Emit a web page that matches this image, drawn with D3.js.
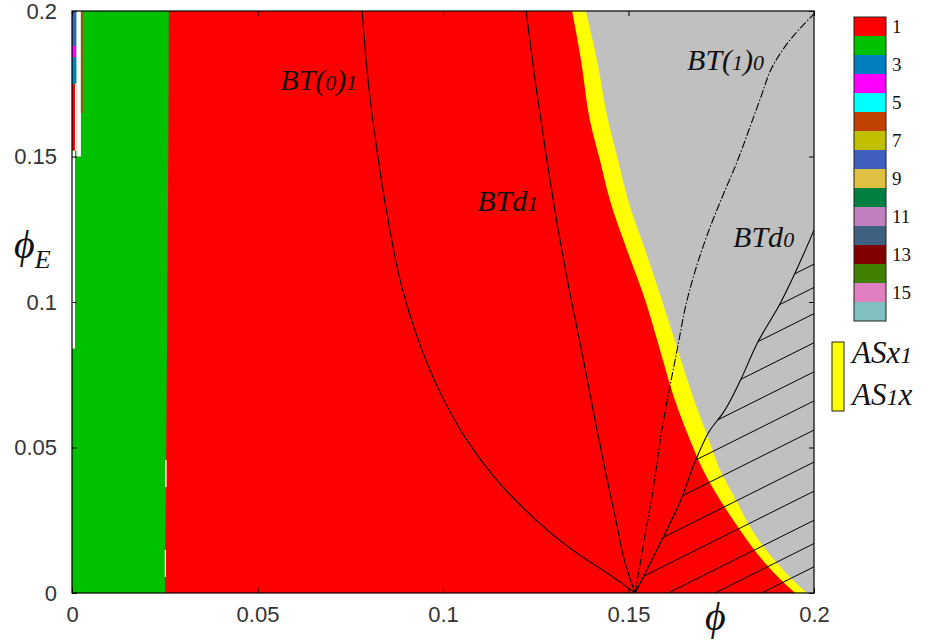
<!DOCTYPE html>
<meta charset="utf-8">
<script src="https://cdn.jsdelivr.net/npm/d3@7"></script>
<style>
body { margin: 0; background: #fff; }
</style>
<body>
<script>

// ---- data, [phi, phiE] pairs ----
var greenEdge = [[0.0251,0],[0.0251,0.012],[0.0253,0.03],[0.0254,0.05],[0.0256,0.08],[0.0258,0.12],[0.0260,0.16],[0.0261,0.2]];
var yellowLeft = [[0.1949,0],[0.1911,0.0045],[0.1868,0.0103],[0.1801,0.0216],[0.1747,0.0320],[0.1701,0.0423],[0.1666,0.0526],
                  [0.1625,0.0663],[0.1585,0.0835],[0.1545,0.1007],[0.1496,0.1179],[0.1450,0.1350],[0.1423,0.1488],
                  [0.1396,0.1625],[0.1372,0.1832],[0.1348,0.2]];
var yellowRight = [[0.1981,0],[0.1943,0.0045],[0.1900,0.0103],[0.1833,0.0216],[0.1790,0.0320],[0.1747,0.0423],[0.1717,0.0526],
                   [0.1677,0.0663],[0.1633,0.0835],[0.1590,0.1007],[0.1545,0.1179],[0.1499,0.1350],[0.1472,0.1488],
                   [0.1445,0.1625],[0.1415,0.1832],[0.1385,0.2]];

var bt01 = [[0.1518,0],[0.1442,0.0069],[0.1361,0.0137],[0.1291,0.0206],[0.1162,0.0364],[0.1059,0.0536],[0.0989,0.0698],
            [0.0927,0.0893],[0.0889,0.1052],[0.0852,0.1282],[0.0822,0.1522],[0.0798,0.1763],[0.0782,0.2]];
var btd1 = [[0.1518,0],[0.1491,0.0103],[0.1466,0.0251],[0.1437,0.0423],[0.1410,0.0594],[0.1384,0.0766],[0.1339,0.1052],
            [0.1306,0.1282],[0.1276,0.1522],[0.1248,0.1763],[0.1224,0.2]];
var bt10 = [[0.1518,0],[0.1539,0.0158],[0.1563,0.0330],[0.1590,0.0560],[0.1631,0.0835],[0.1658,0.1007],[0.1714,0.1237],
            [0.1749,0.1350],[0.1787,0.1464],[0.1854,0.1694],[0.1890,0.1814],[0.1935,0.1900],[0.2,0.1990]];
var btd0 = [[0.1518,0],[0.1590,0.0182],[0.1639,0.0313],[0.1687,0.0474],[0.1720,0.0560],[0.1755,0.0619],[0.1801,0.0729],
            [0.1846,0.0856],[0.1908,0.0993],[0.1949,0.1100],[0.2,0.1247]];

// hatch lines: phiE where each meets the right edge, and their slope
var hatchEdge = [0.113, 0.105, 0.096, 0.086, 0.076, 0.066, 0.056, 0.045, 0.035, 0.025, 0.017, 0.009];
var hatchSlope = 0.637;

// small cells along the left edge and the green/red border: [phi0, phi1, phiE0, phiE1, code]
var stripCells = [
  [0, 0.0012, 0.188, 0.2, 8],
  [0, 0.0012, 0.184, 0.188, 4],
  [0, 0.0012, 0.175, 0.184, 3],
  [0, 0.0008, 0.152, 0.175, 1],
  [0.0008, 0.0012, 0.152, 0.175, 0],
  [0, 0.0008, 0.084, 0.152, 0],
  [0.0012, 0.0024, 0.15, 0.2, 0],
  [0.0024, 0.0029, 0.165, 0.2, 6],
  [0.0251, 0.0255, 0.0364, 0.0457, 0],
  [0.0250, 0.0253, 0.0055, 0.0148, 0]
];

var codes = d3.range(1, 17);
var codeColors = ["#ffffff","#ff0000","#00c000","#0080c0","#ff00ff","#00ffff","#c04000","#c0c000","#4060c0",
                  "#e0c040","#008040","#c080c0","#406080","#800000","#408000","#e080c0","#80c0c0"];
var axisTicks = [0, 0.05, 0.1, 0.15, 0.2];
var tickText = ["0", "0.05", "0.1", "0.15", "0.2"];

var curveLabels = [
  {text: "BT(0)1", phi: 0.0561, phiE: 0.1729},
  {text: "BTd1",   phi: 0.1092, phiE: 0.1313},
  {text: "BT(1)0", phi: 0.1658, phiE: 0.1797},
  {text: "BTd0",   phi: 0.1782, phiE: 0.1189}
];
var legendText = ["ASx1", "AS1x"];

// ---- canvas ----
var W = 934, H = 641;
var margin = {top: 11, right: 120, bottom: 48, left: 72};

var svg = d3.select("body").append("svg")
    .attr("width", W)
    .attr("height", H);

var x = d3.scaleLinear().domain([0, 0.2]).range([margin.left, 814]);
var y = d3.scaleLinear().domain([0, 0.2]).range([H - margin.bottom, margin.top]);

svg.append("clipPath").attr("id", "plotclip")
  .append("rect")
    .attr("x", x(0)).attr("y", y(0.2))
    .attr("width", x(0.2) - x(0)).attr("height", y(0) - y(0.2));

var plot = svg.append("g").attr("clip-path", "url(#plotclip)");

// red background region
plot.append("rect")
    .attr("x", x(0)).attr("y", y(0.2))
    .attr("width", x(0.2) - x(0)).attr("height", y(0) - y(0.2))
    .attr("fill", codeColors[1]);

// green region
var leftArea = d3.area()
    .y(function(d) { return y(d[1]); })
    .x0(x(0))
    .x1(function(d) { return x(d[0]); });
plot.append("path").datum(greenEdge)
    .attr("d", leftArea)
    .attr("fill", codeColors[2]);

plot.selectAll(".cell")
    .data(stripCells)
  .enter().append("rect")
    .attr("class", "cell")
    .attr("x", function(d) { return x(d[0]); })
    .attr("width", function(d) { return x(d[1]) - x(d[0]); })
    .attr("y", function(d) { return y(d[3]); })
    .attr("height", function(d) { return y(d[2]) - y(d[3]); })
    .attr("fill", function(d) { return codeColors[d[4]]; });

// yellow band and grey region, both run to the right edge
var rightArea = d3.area()
    .y(function(d) { return y(d[1]); })
    .x0(function(d) { return x(d[0]); })
    .x1(x(0.2) + 2)
    .curve(d3.curveMonotoneY);
plot.append("path").datum(yellowLeft)
    .attr("d", rightArea)
    .attr("fill", "#ffff00");
plot.append("path").datum(yellowRight)
    .attr("d", rightArea)
    .attr("fill", "#c0c0c0");

// hatched region below BTd0
var hatchPoly = btd0.concat([[0.2, 0]]);
svg.append("clipPath").attr("id", "hatchclip")
  .append("path")
    .attr("d", "M" + hatchPoly.map(function(d) { return x(d[0]) + "," + y(d[1]); }).join("L") + "Z");

var hatch = plot.append("g").attr("clip-path", "url(#hatchclip)");
hatch.selectAll("line")
    .data(hatchEdge)
  .enter().append("line")
    .attr("x1", x(0.2))
    .attr("y1", function(d) { return y(d); })
    .attr("x2", x(0.2 - 0.1))
    .attr("y2", function(d) { return y(d - hatchSlope * 0.1); })
    .attr("stroke", "#000")
    .attr("stroke-width", 1);

// bifurcation curves
var line = d3.line()
    .x(function(d) { return x(d[0]); })
    .y(function(d) { return y(d[1]); })
    .curve(d3.curveMonotoneY);

[bt01, btd1, btd0].forEach(function(c) {
  plot.append("path").datum(c)
      .attr("d", line)
      .attr("fill", "none")
      .attr("stroke", "#000")
      .attr("stroke-width", 1.1);
});
plot.append("path").datum(bt10)
    .attr("d", line)
    .attr("fill", "none")
    .attr("stroke", "#000")
    .attr("stroke-width", 1.1)
    .attr("stroke-dasharray", "8,2,1.5,2");

// axes, ticks on all four sides pointing inward
var fmt = function(d) { return tickText[axisTicks.indexOf(d)]; };

svg.append("g")
    .attr("transform", "translate(0," + y(0) + ")")
    .call(d3.axisBottom(x).tickValues(axisTicks).tickFormat(fmt).tickSize(-5).tickPadding(13));
svg.append("g")
    .attr("transform", "translate(" + x(0) + ",0)")
    .call(d3.axisLeft(y).tickValues(axisTicks).tickFormat(fmt).tickSize(-5).tickPadding(15));
svg.append("g")
    .attr("transform", "translate(0," + y(0.2) + ")")
    .call(d3.axisTop(x).tickValues(axisTicks).tickFormat("").tickSize(-5));
svg.append("g")
    .attr("transform", "translate(" + x(0.2) + ",0)")
    .call(d3.axisRight(y).tickValues(axisTicks).tickFormat("").tickSize(-5));

svg.selectAll(".domain").remove();
svg.selectAll(".tick line").attr("stroke", "#000");
svg.selectAll(".tick text")
    .attr("font-family", "Liberation Sans, Arial, sans-serif")
    .attr("font-size", 22)
    .attr("fill", "#333");

svg.append("rect")
    .attr("x", x(0)).attr("y", y(0.2))
    .attr("width", x(0.2) - x(0)).attr("height", y(0) - y(0.2))
    .attr("fill", "none")
    .attr("stroke", "#000")
    .attr("stroke-width", 1.2);

// axis titles
svg.append("text")
    .attr("x", 705).attr("y", 630)
    .attr("font-family", "Liberation Serif, DejaVu Serif, serif")
    .attr("font-style", "italic")
    .attr("font-size", 40)
    .attr("fill", "#111")
    .text("\u03D5");

var yt = svg.append("text")
    .attr("x", 14).attr("y", 258)
    .attr("font-family", "Liberation Serif, DejaVu Serif, serif")
    .attr("font-style", "italic")
    .attr("fill", "#111");
yt.append("tspan").attr("font-size", 40).text("\u03D5");
yt.append("tspan").attr("font-size", 26).attr("dy", 10).text("E");

// labels: digits are set smaller, like old-style figures
function richText(sel, str, big, small) {
  str.match(/\d+|[^\d]+/g).forEach(function(part) {
    sel.append("tspan")
      .attr("font-size", /\d/.test(part) ? small : big)
      .text(part);
  });
}

curveLabels.forEach(function(d) {
  var t = svg.append("text")
      .attr("x", x(d.phi)).attr("y", y(d.phiE))
      .attr("font-family", "Liberation Serif, Times New Roman, serif")
      .attr("font-style", "italic")
      .attr("fill", "#111");
  richText(t, d.text, 30, 22);
});

// colour bar
var cb = d3.scaleBand().domain(codes).range([17, 321]);
svg.selectAll(".cb")
    .data(codes)
  .enter().append("rect")
    .attr("class", "cb")
    .attr("x", 854)
    .attr("y", function(d) { return cb(d); })
    .attr("width", 32)
    .attr("height", cb.bandwidth())
    .attr("fill", function(d) { return codeColors[d]; });
svg.append("rect")
    .attr("x", 854).attr("y", 17)
    .attr("width", 32).attr("height", 304)
    .attr("fill", "none").attr("stroke", "#222").attr("stroke-width", 1);
svg.selectAll(".cbl")
    .data(codes.filter(function(d) { return d % 2 == 1; }))
  .enter().append("text")
    .attr("class", "cbl")
    .attr("x", 892)
    .attr("y", function(d) { return cb(d) + cb.bandwidth() / 2; })
    .attr("dy", "0.35em")
    .attr("font-family", "Liberation Serif, Times New Roman, serif")
    .attr("font-size", 19)
    .attr("fill", "#111")
    .text(function(d) { return d; });

// yellow legend
svg.append("rect")
    .attr("x", 832).attr("y", 342)
    .attr("width", 12).attr("height", 69)
    .attr("fill", "#ffff00").attr("stroke", "#222").attr("stroke-width", 1);
legendText.forEach(function(s, i) {
  var t = svg.append("text")
      .attr("x", 852).attr("y", 363 + i * 42)
      .attr("font-family", "Liberation Serif, Times New Roman, serif")
      .attr("font-style", "italic")
      .attr("fill", "#111");
  richText(t, s, 31, 24);
});

</script>
</body>
</html>
